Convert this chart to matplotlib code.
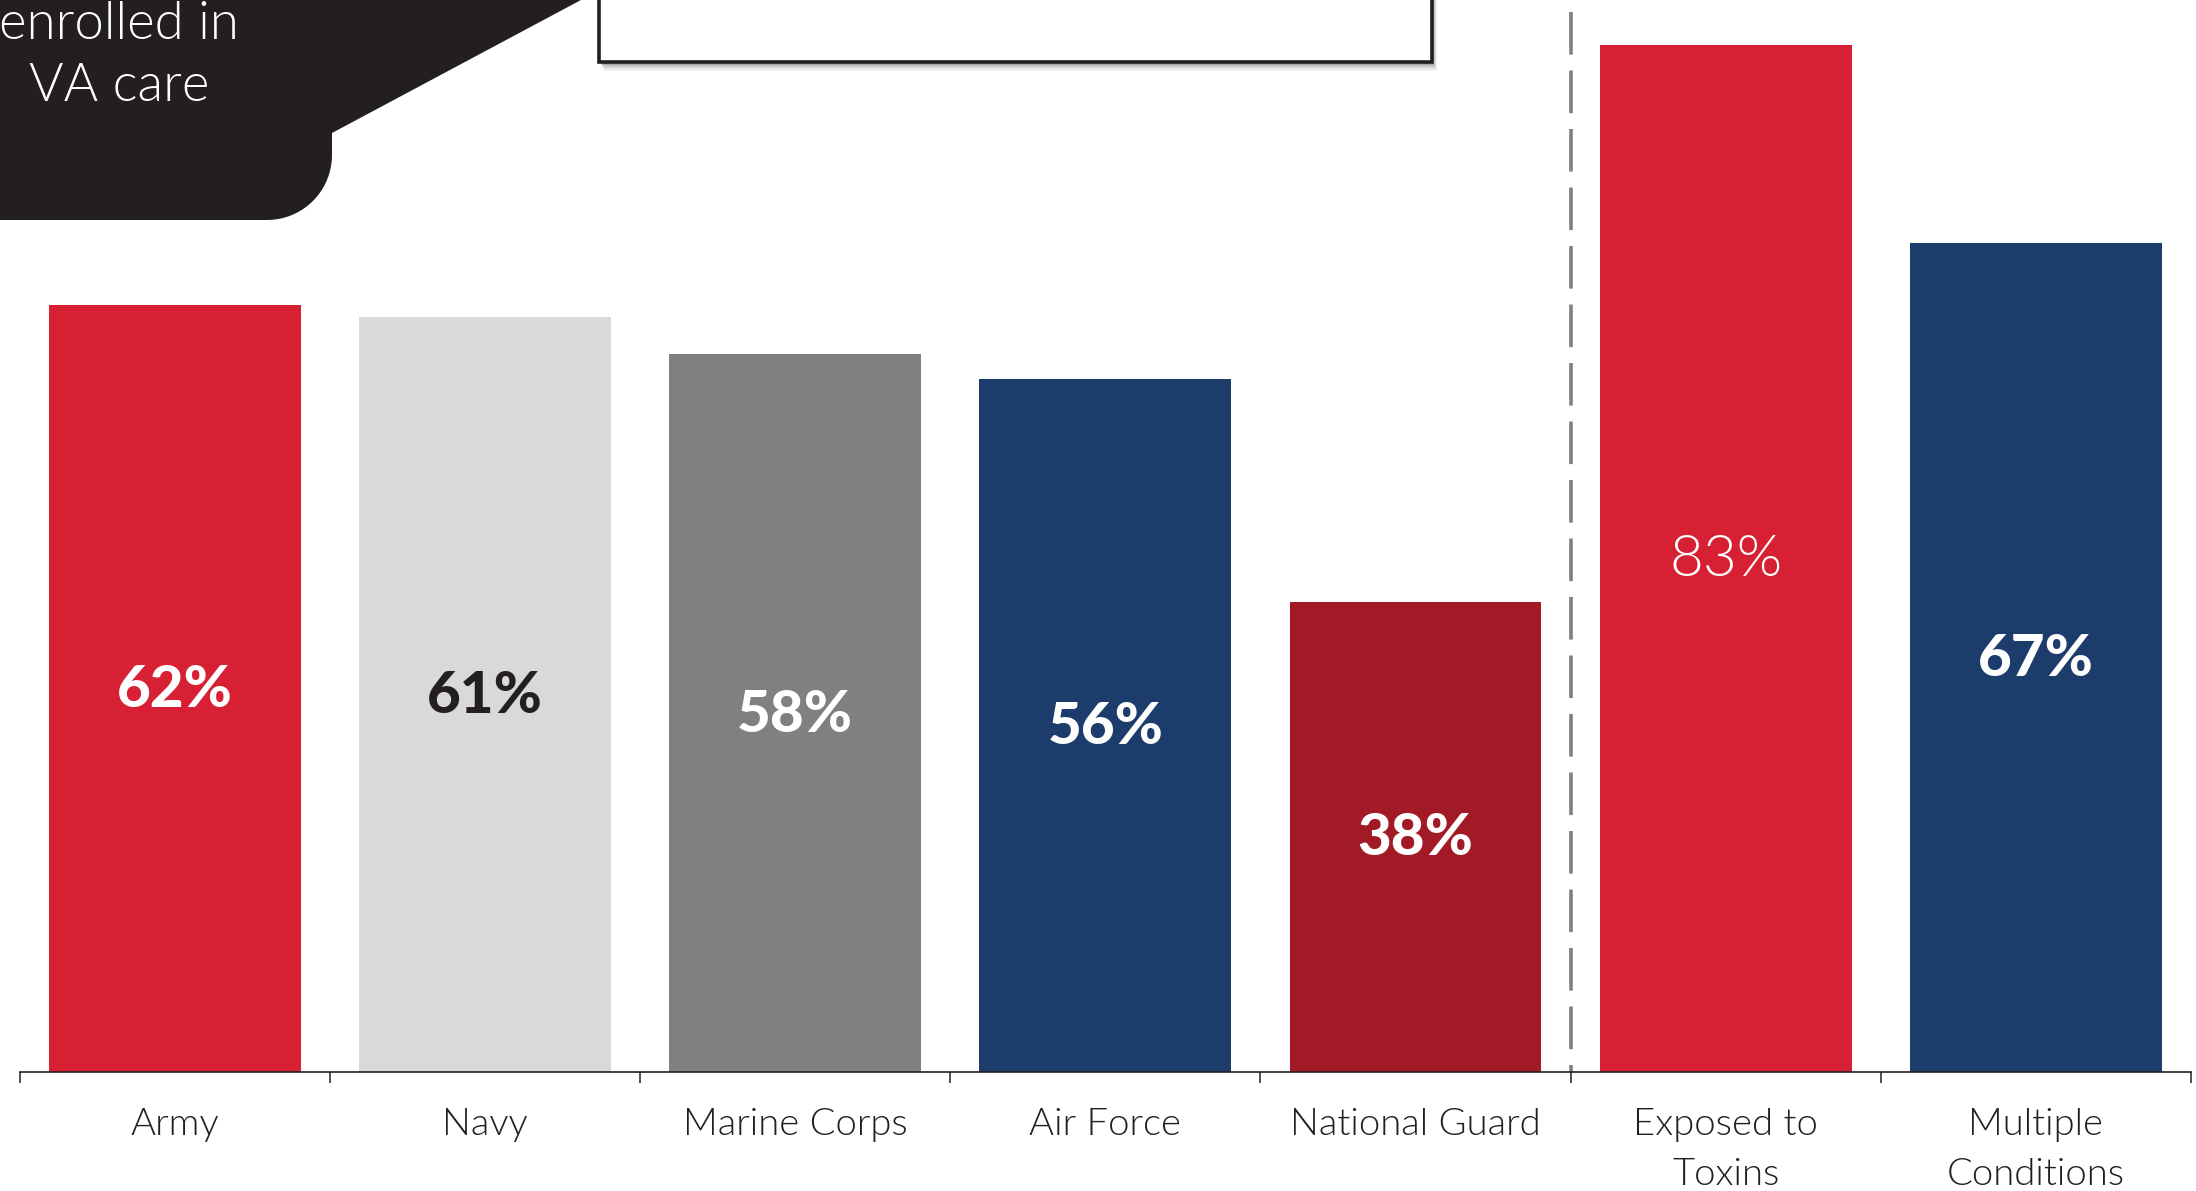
import numpy as np
import matplotlib
matplotlib.use("Agg")
import matplotlib.pyplot as plt
from matplotlib.patches import Polygon, Rectangle

# data
categories = ["Army", "Navy", "Marine Corps", "Air Force", "National Guard",
              "Exposed to\nToxins", "Multiple\nConditions"]
values = [62, 61, 58, 56, 38, 83, 67]
value_labels = ["62%", "61%", "58%", "56%", "38%", "83%", "67%"]
bar_colors = ["#d72033", "#d9d9d9", "#808080", "#1c3c6b", "#a31a27", "#d72033", "#1c3c6b"]
label_colors = ["white", "#231f20", "white", "white", "white", "white", "white"]
label_weights = [900, 900, 900, 900, 900, 300, 900]
callout_lines = ["enrolled in", "VA care"]

W, H = 2196, 1191
fig = plt.figure(figsize=(W / 100, H / 100), dpi=100)
fig.patch.set_facecolor("white")

ax = fig.add_axes([19.6 / W, 0.0999, 2171.4 / W, 0.9001])
x = np.arange(len(categories))
ax.bar(x, values, width=0.812, color=bar_colors, zorder=2)
ax.set_xlim(-0.5, len(categories) - 0.5)
ax.set_ylim(0, 86.6)

for i, v in enumerate(values):
    ax.annotate(value_labels[i], (i, v / 2), xytext=(0, -1.5), textcoords="offset points",
                ha="center", va="center", color=label_colors[i], fontsize=42,
                family="Lato", fontweight=label_weights[i], zorder=3)

# category names, one text per line so the first baselines line up
for i, c in enumerate(categories):
    for j, line in enumerate(c.split("\n")):
        ax.annotate(line, (i, 0), xytext=(0, -45.5 - 36 * j), textcoords="offset points",
                    ha="center", va="baseline", fontsize=27.5, family="Lato",
                    fontweight=300, color="#231f20", annotation_clip=False)

# separator between service branches and conditions
ax.plot([4.5, 4.5], [85.65, 0], color="#808080", lw=2.6,
        ls=(0, (11.8, 4.4)), zorder=1, solid_capstyle="butt")

for s in ["top", "right", "left"]:
    ax.spines[s].set_visible(False)
ax.spines["bottom"].set_color("#231f20")
ax.spines["bottom"].set_linewidth(1.2)
ax.set_yticks([])
ax.set_xticks([])
ax.set_xticks(np.arange(-0.5, len(categories)), minor=True)
ax.tick_params(axis="x", which="minor", length=8, width=1.1, color="#231f20")

# overlay in pixel units for the callout pieces at the top
ov = fig.add_axes([0, 0, 1, 1], zorder=5)
ov.set_xlim(0, W)
ov.set_ylim(H, 0)
ov.axis("off")
ov.patch.set_alpha(0)

r = 65
t = np.linspace(0, np.pi / 2, 20)
corner = np.column_stack([332 - r + r * np.cos(t), 220 - r + r * np.sin(t)])
pts = [(-5, -5), (581, -5), (581, 0), (332, 133)] + [tuple(p) for p in corner] + [(-5, 220)]
ov.add_patch(Polygon(pts, closed=True, facecolor="#231f20", edgecolor="none"))
ov.text(119, 39, callout_lines[0], ha="center", va="baseline", color="white",
        fontsize=38, family="Lato", fontweight=300)
ov.text(119, 101, callout_lines[1], ha="center", va="baseline", color="white",
        fontsize=38, family="Lato", fontweight=300)

# white text box with a soft shadow
for k, a in [(9, 0.08), (7, 0.12), (5, 0.18), (3, 0.25)]:
    ov.add_patch(Rectangle((599 + k * 0.6, -20), 833, 82 + k, facecolor="#555555",
                           edgecolor="none", alpha=a))
ov.add_patch(Rectangle((599, -20), 833, 82, facecolor="white",
                       edgecolor="#231f20", lw=2.6))

fig.savefig("out.png", dpi=100)
